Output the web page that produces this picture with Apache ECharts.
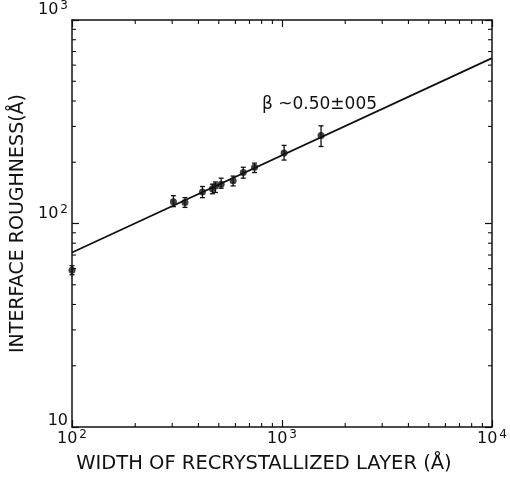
<!DOCTYPE html>
<html>
<head>
<meta charset="utf-8">
<script src="https://cdn.jsdelivr.net/npm/echarts@6/dist/echarts.min.js"></script>
<style>
html,body{margin:0;padding:0;background:#fff;}
#chart{width:510px;height:479px;}
</style>
</head>
<body>
<div id="chart"></div>
<script>
// ---- data ----
const widthA = [100, 304, 345, 418, 466, 482, 513, 585, 654, 740, 1023, 1534];
const roughA = [59, 128, 127, 143, 148, 153, 156, 162, 178, 189, 222, 271];
const errLow = [56, 121, 120, 134, 140, 142, 149, 153, 167, 178, 205, 239];
const errHigh = [62, 137, 134, 152, 156, 160, 167, 171, 189, 198, 242, 302];
const fitX = [100, 10000];
const fitY = [72, 650];
const xTickValues = [100, 1000, 10000];
const yTickValues = [10, 100, 1000];
const xMinorTicks = [200, 300, 400, 500, 600, 700, 800, 900, 2000, 3000, 4000, 5000, 6000, 7000, 8000, 9000];
const yMinorTicks = [20, 30, 40, 50, 60, 70, 80, 90, 200, 300, 400, 500, 600, 700, 800, 900];
const xTitle = 'WIDTH OF RECRYSTALLIZED LAYER (Å)';
const yTitle = 'INTERFACE ROUGHNESS(Å)';
const annotation = 'β ~0.50±005';

const FONT = 'DejaVu Sans';
const INK = '#111';

function powLabel(v) {
  const e = Math.round(Math.log10(v));
  if (e === 1) return '{b|10}';
  return '{b|10}{s|' + e + '}';
}
const richX = {
  b: {fontFamily: FONT, fontSize: 16, color: INK},
  s: {fontFamily: FONT, fontSize: 12, color: INK, verticalAlign: 'top', padding: [0, 0, 8, 2]}
};
const richY = {
  b: {fontFamily: FONT, fontSize: 16, color: INK, lineHeight: 12},
  s: {fontFamily: FONT, fontSize: 12, color: INK, verticalAlign: 'top', padding: [0, 0, 8, 2]}
};

const chart = echarts.init(document.getElementById('chart'), null, {renderer: 'canvas'});

const baseAxis = {
  type: 'log', logBase: 10,
  axisLine: {show: true, onZero: false, lineStyle: {color: INK, width: 1.5}},
  axisTick: {show: true, inside: true, length: 7, lineStyle: {color: INK, width: 1.2}},
  splitLine: {show: false},
  minorTick: {show: false},
  minorSplitLine: {show: false}
};

const option = {
  animation: false,
  backgroundColor: '#fff',
  grid: {left: 72, right: 16, top: 17, bottom: 47, containLabel: false},
  xAxis: [
    Object.assign({}, baseAxis, {
      position: 'bottom', min: 100, max: 10000,
      name: xTitle, nameLocation: 'middle', nameGap: 27,
      nameTextStyle: {fontFamily: FONT, fontSize: 19.5, color: INK, padding: [0, 36, 0, 0]},
      axisLabel: {show: true, margin: 2, formatter: powLabel, rich: richX, verticalAlign: 'top'}
    }),
    Object.assign({}, baseAxis, {
      position: 'top', min: 100, max: 10000, axisLabel: {show: false}
    })
  ],
  yAxis: [
    Object.assign({}, baseAxis, {
      position: 'left', min: 10, max: 1000,
      name: yTitle, nameLocation: 'middle', nameGap: 36,
      nameTextStyle: {fontFamily: FONT, fontSize: 19, color: INK},
      axisLabel: {show: true, margin: 4, formatter: powLabel, rich: richY, verticalAlign: 'bottom'}
    }),
    Object.assign({}, baseAxis, {
      position: 'right', min: 10, max: 1000, axisLabel: {show: false}
    })
  ],
  graphic: [{
    type: 'text', left: 262, top: 96,
    style: {text: annotation, fontFamily: FONT, fontSize: 17, fill: INK}
  }],
  series: [
    {
      type: 'line', data: fitX.map((x, i) => [x, fitY[i]]),
      showSymbol: false, symbol: 'none',
      lineStyle: {color: INK, width: 1.8}, z: 2
    },
    {
      type: 'custom', clip: false, z: 3,
      data: widthA.map((x, i) => [x, errLow[i], errHigh[i]]),
      renderItem: function (params, api) {
        const lo = api.coord([api.value(0), api.value(1)]);
        const hi = api.coord([api.value(0), api.value(2)]);
        const c = 2.5;
        const st = {stroke: INK, lineWidth: 1.3};
        return {type: 'group', children: [
          {type: 'line', shape: {x1: lo[0], y1: lo[1], x2: hi[0], y2: hi[1]}, style: st},
          {type: 'line', shape: {x1: lo[0] - c, y1: lo[1], x2: lo[0] + c, y2: lo[1]}, style: st},
          {type: 'line', shape: {x1: hi[0] - c, y1: hi[1], x2: hi[0] + c, y2: hi[1]}, style: st}
        ]};
      }
    },
    {
      type: 'scatter', clip: false, z: 4,
      data: widthA.map((x, i) => [x, roughA[i]]),
      symbol: 'circle', symbolSize: 7,
      itemStyle: {color: INK}
    },
    {
      type: 'custom', clip: false, z: 5,
      data: xMinorTicks.map(v => [v, 10]),
      renderItem: function (params, api) {
        const cs = params.coordSys;
        const p = api.coord([api.value(0), api.value(1)]);
        const L = 4, st = {stroke: INK, lineWidth: 1.1};
        return {type: 'group', children: [
          {type: 'line', shape: {x1: p[0], y1: cs.y + cs.height, x2: p[0], y2: cs.y + cs.height - L}, style: st},
          {type: 'line', shape: {x1: p[0], y1: cs.y, x2: p[0], y2: cs.y + L}, style: st}
        ]};
      }
    },
    {
      type: 'custom', clip: false, z: 5,
      data: yMinorTicks.map(v => [100, v]),
      renderItem: function (params, api) {
        const cs = params.coordSys;
        const p = api.coord([api.value(0), api.value(1)]);
        const L = 4, st = {stroke: INK, lineWidth: 1.1};
        return {type: 'group', children: [
          {type: 'line', shape: {x1: cs.x, y1: p[1], x2: cs.x + L, y2: p[1]}, style: st},
          {type: 'line', shape: {x1: cs.x + cs.width, y1: p[1], x2: cs.x + cs.width - L, y2: p[1]}, style: st}
        ]};
      }
    }
  ]
};
chart.setOption(option);
</script>
</body>
</html>
